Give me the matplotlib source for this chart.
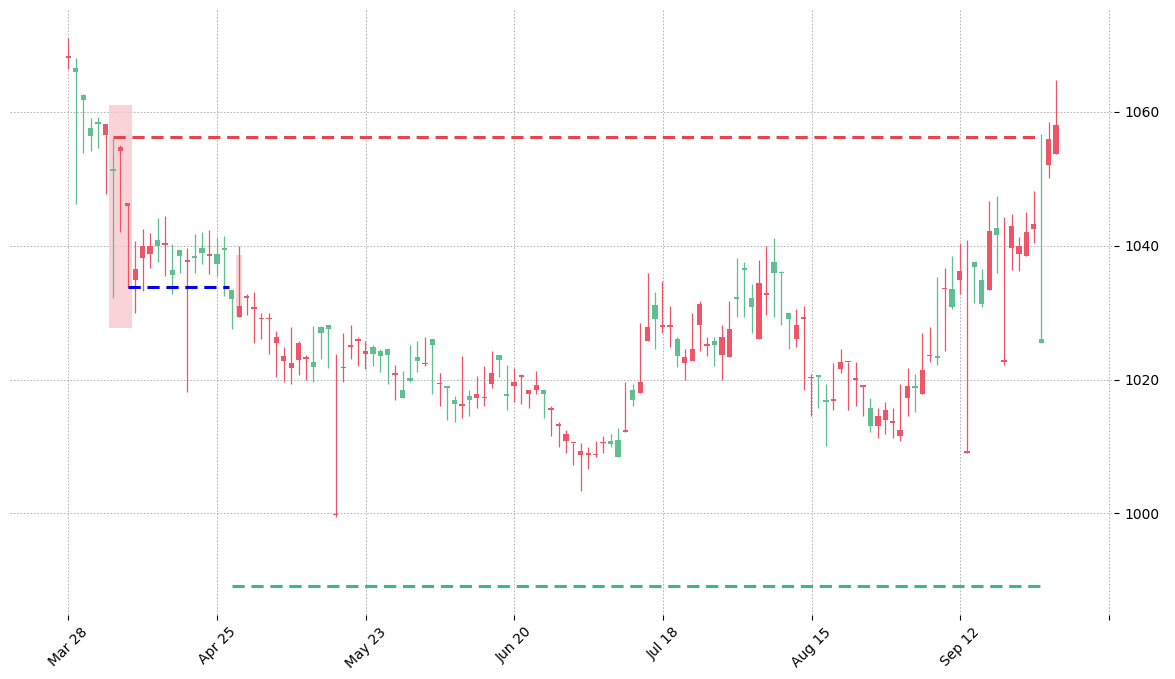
import matplotlib
matplotlib.use("Agg")
import matplotlib.pyplot as plt
import matplotlib.dates as mdates
import pandas as pd
import numpy as np

start_date = "2022-03-28"
end_date = "2022-09-30"
opens = [1068.3,1066.0,1061.8,1056.4,1058.2,1058.2,1051.2,1054.8,1046.4,1036.6,
         1040.0,1039.9,1040.0,1040.4,1035.7,1038.4,1037.8,1038.1,1038.9,1038.8,
         1037.2,1039.4,1032.1,1031.0,1032.5,1030.9,1029.2,1029.2,1026.4,1023.6,
         1022.5,1025.5,1023.4,1021.9,1026.9,1027.5,999.8,1021.9,1025.2,1026.1,
         1024.2,1023.9,1023.6,1023.7,1021.0,1017.2,1019.8,1022.8,1022.5,1025.1,
         1019.5,1018.7,1016.4,1016.4,1017.0,1017.8,1017.4,1021.0,1023.0,1017.6,
         1019.7,1020.7,1018.5,1019.2,1017.8,1015.8,1013.4,1011.8,1010.7,1009.4,
         1009.1,1008.9,1010.7,1010.4,1008.4,1012.4,1016.9,1019.6,1027.9,1029.1,
         1028.2,1028.1,1023.6,1023.4,1024.6,1031.3,1025.2,1025.1,1026.4,1027.5,
         1032.1,1036.4,1030.9,1034.5,1032.9,1036.0,1035.9,1029.1,1028.2,1029.3,
         1020.4,1020.4,1016.6,1017.0,1022.7,1022.8,1020.2,1019.1,1013.1,1014.5,
         1015.4,1013.7,1012.5,1019.0,1018.8,1021.5,1023.7,1023.3,1033.7,1030.8,
         1036.3,1009.3,1036.9,1031.3,1042.2,1041.6,1022.9,1043.0,1040.0,1042.1,
         1043.3,1025.5,1056.0,1058.1]
highs = [1071.0,1068.0,1062.7,1059.1,1059.3,1058.2,1056.1,1055.1,1046.3,1040.7,
         1042.5,1041.9,1044.2,1044.5,1040.3,1039.3,1039.7,1041.8,1042.1,1042.4,
         1041.2,1041.5,1033.4,1039.9,1032.8,1033.1,1030.0,1030.0,1027.3,1024.8,
         1027.8,1025.8,1023.7,1028.0,1028.0,1028.2,1023.9,1026.9,1028.2,1026.3,
         1025.7,1025.1,1024.5,1024.5,1022.2,1021.3,1025.2,1025.7,1026.4,1026.0,
         1021.0,1019.1,1017.6,1023.6,1018.5,1020.6,1022.1,1024.3,1023.7,1022.2,
         1021.8,1020.9,1018.5,1021.3,1018.4,1016.0,1013.6,1012.4,1010.6,1010.6,
         1009.9,1010.9,1011.5,1011.9,1012.7,1019.6,1019.4,1028.5,1036.0,1033.1,
         1034.8,1031.0,1026.3,1024.5,1030.0,1031.8,1026.4,1026.4,1028.2,1031.8,
         1038.2,1037.5,1034.3,1037.8,1040.0,1041.2,1036.3,1030.0,1030.6,1031.0,
         1020.9,1020.7,1019.4,1022.5,1024.5,1022.7,1022.7,1019.1,1017.3,1015.8,
         1016.7,1015.7,1019.4,1021.8,1020.9,1027.0,1027.8,1035.4,1036.7,1038.5,
         1040.4,1040.9,1037.6,1036.6,1046.7,1047.5,1044.3,1044.8,1041.3,1045.1,
         1048.2,1056.7,1058.5,1064.8]
lows = [1066.4,1046.3,1053.9,1054.2,1054.6,1047.8,1032.2,1042.0,1033.7,1030.0,
        1033.3,1036.7,1037.6,1035.5,1032.8,1036.0,1018.2,1036.0,1037.3,1035.8,
        1035.5,1032.5,1027.5,1029.3,1029.7,1025.4,1026.0,1023.9,1020.4,1019.6,
        1019.4,1020.7,1020.0,1019.7,1023.1,1021.8,999.4,1019.7,1023.1,1022.1,
        1021.6,1022.1,1021.2,1019.3,1016.9,1017.2,1019.7,1021.2,1022.1,1017.9,
        1016.0,1014.0,1013.7,1014.3,1014.5,1015.7,1016.0,1018.8,1020.4,1015.5,
        1016.7,1016.4,1015.8,1017.8,1014.2,1011.6,1010.0,1009.1,1007.2,1003.4,
        1006.7,1008.4,1009.0,1010.0,1008.4,1012.1,1016.0,1018.0,1025.8,1024.6,
        1026.9,1024.8,1021.9,1019.9,1022.9,1024.3,1023.6,1022.1,1020.0,1023.4,
        1029.3,1029.3,1026.9,1026.1,1029.7,1029.3,1028.2,1024.6,1024.9,1018.4,
        1014.6,1015.7,1010.1,1015.4,1021.0,1015.4,1016.0,1014.6,1012.1,1011.3,
        1011.8,1011.2,1010.9,1014.5,1015.1,1017.8,1022.7,1022.2,1024.2,1030.6,
        1032.8,1009.1,1031.5,1030.8,1033.4,1036.0,1022.2,1036.4,1036.3,1038.5,
        1040.4,1025.4,1050.1,1053.7]
closes = [1068.1,1066.6,1062.5,1057.6,1058.5,1056.6,1051.5,1054.2,1046.0,1034.9,
          1038.1,1038.8,1040.9,1040.1,1036.4,1039.3,1037.5,1038.5,1039.6,1038.5,
          1038.7,1039.7,1033.4,1029.3,1032.2,1030.6,1029.0,1029.0,1025.4,1022.8,
          1021.8,1023.0,1023.1,1022.7,1027.8,1028.2,999.7,1021.7,1024.8,1025.8,
          1023.9,1024.8,1024.2,1024.5,1020.7,1018.5,1020.3,1023.4,1022.3,1026.0,
          1019.3,1019.1,1016.9,1016.1,1017.6,1017.2,1017.2,1019.4,1023.7,1017.9,
          1019.1,1020.4,1017.9,1018.5,1018.4,1015.5,1013.1,1010.9,1010.5,1008.7,
          1008.7,1008.7,1010.5,1010.9,1011.0,1012.1,1018.5,1018.0,1025.8,1031.2,
          1027.9,1027.8,1026.0,1022.5,1022.8,1028.2,1025.0,1025.7,1023.7,1023.4,
          1032.4,1036.7,1032.2,1026.1,1032.7,1037.5,1036.1,1030.0,1026.1,1029.0,
          1020.2,1020.7,1016.9,1016.8,1021.6,1022.6,1020.0,1018.9,1015.7,1013.1,
          1014.0,1013.5,1011.6,1017.3,1019.1,1017.8,1023.5,1023.6,1033.5,1033.6,
          1034.9,1009.0,1037.5,1034.9,1033.4,1042.7,1022.7,1039.7,1038.7,1038.5,
          1042.5,1026.0,1052.1,1053.7]

resistance_level = 1056.3
support_level = 989.1
mid_level = 1033.9
zone_big = (1027.7, 1061.0)
zone_small = (1029.3, 1038.6)

GREEN = "#5fbf8e"
RED = "#ee5566"

dates = pd.date_range(start_date, end_date, periods=len(opens))
x = mdates.date2num(dates)

fig = plt.figure(figsize=(11.75, 6.79), dpi=100)
ax = fig.add_axes([0.0085, 0.094, 0.940, 0.891])

w = 1.0
for xi, o, h, l, c in zip(x, opens, highs, lows, closes):
    col = GREEN if c >= o else RED
    ax.vlines(xi, l, h, color=col, linewidth=0.9, zorder=3)
    b = max(abs(c - o), 0.25)
    ax.add_patch(plt.Rectangle((xi - w / 2, min(o, c)), w, b, color=col, zorder=4, linewidth=0))

# zones
ax.add_patch(plt.Rectangle((x[6] - 0.8, zone_big[0]), x[8] - x[6] + 1.6, zone_big[1] - zone_big[0],
                           color="#f7c5cb", alpha=0.75, zorder=1, linewidth=0))
ax.add_patch(plt.Rectangle((x[23] - 0.6, zone_small[0]), 1.2, zone_small[1] - zone_small[0],
                           color="#f7c5cb", alpha=0.75, zorder=1, linewidth=0))

ax.hlines(resistance_level, x[6], x[131] - 0.3, colors="#e5454f", linestyles=(0, (4, 2.2)), linewidth=2.2, zorder=5)
ax.hlines(mid_level, x[8], x[22] - 0.5, colors="#0000ee", linestyles=(0, (4, 2.2)), linewidth=2.2, zorder=5)
ax.hlines(support_level, x[22] + 0.1, x[131], colors="#3cb883", linestyles=(0, (4, 2.2)), linewidth=2.2, zorder=5)

t0 = pd.Timestamp(start_date)
xt = [t0 + pd.Timedelta(days=28 * k) for k in range(8)]
ax.set_xticks(mdates.date2num(xt))
ax.set_xticklabels([d.strftime("%b %d") for d in xt[:-1]] + [""], rotation=45)
ax.set_xlim(mdates.date2num(t0 - pd.Timedelta(days=11)), mdates.date2num(t0 + pd.Timedelta(days=197)))
ax.set_ylim(984.8, 1075.2)
ax.set_yticks([1000, 1020, 1040, 1060])
ax.yaxis.tick_right()
ax.tick_params(labelsize=10)
ax.grid(True, color="#aaaaaa", linestyle=(0, (2, 2)), linewidth=0.6)
ax.set_axisbelow(True)
for s in ax.spines.values():
    s.set_visible(False)

fig.savefig("out.png", dpi=100)
